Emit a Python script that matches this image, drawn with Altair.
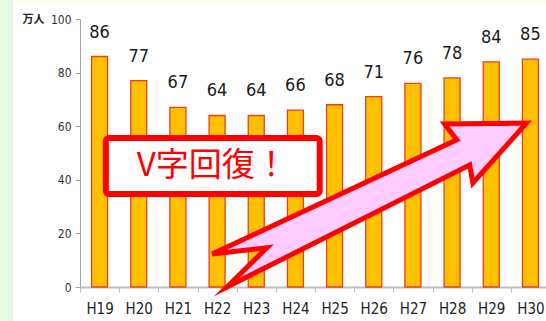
import altair as alt
import pandas as pd

# ---- data ----
years = ["H19", "H20", "H21", "H22", "H23", "H24", "H25", "H26", "H27", "H28", "H29", "H30"]
visitors = [86, 77, 67, 64, 64, 66, 68, 71, 76, 78, 84, 85]

# annotation arrow outline (x in category-slot units, y in 万人)
arrow_u = [3.37, 9.62, 9.31, 11.40, 10.03, 9.95, 3.75, 4.77, 3.37]
arrow_v = [12.3, 54.9, 60.8, 61.2, 38.8, 45.5, 0.0, 14.6, 12.3]

# annotation box (x in category-slot units, y in 万人)
box_u = [0.66, 6.12]
box_v = [34.7, 55.6]
callout_text = "V字回復！"
callout_pos = [1.45, 45.1]

bars_df = pd.DataFrame({"year": years, "value": visitors})
arrow_df = pd.DataFrame({"u": arrow_u, "v": arrow_v, "i": list(range(len(arrow_u)))})
box_df = pd.DataFrame({"u": [box_u[0]], "u2": [box_u[1]], "v": [box_v[0]], "v2": [box_v[1]]})
txt_df = pd.DataFrame({"u": [callout_pos[0]], "v": [callout_pos[1]], "t": [callout_text]})

XR = [0, 470]
NARROW = "Liberation Sans Narrow, DejaVu Sans Condensed, Arial Narrow, sans-serif"
CJK = "Noto Sans CJK JP"

yscale = alt.Scale(domain=[0, 100], nice=False)
band = alt.Scale(domain=years, range=XR, paddingInner=0, paddingOuter=0)
qx = alt.Scale(domain=[0, 12], range=XR, nice=False, zero=False)

bars = alt.Chart(bars_df).mark_bar(
    width=16, fill="#FFC000", stroke="#E8401C", strokeWidth=1.3
).encode(
    x=alt.X("year:N", sort=years, scale=band, axis=alt.Axis(
        title=None, labelAngle=0, tickBand="extent", tickSize=5, tickColor="#BFBFBF",
        domainColor="#BFBFBF", domainWidth=2, labelFont=NARROW, labelFontSize=15,
        labelColor="#222222", labelPadding=9)),
    y=alt.Y("value:Q", scale=yscale, axis=alt.Axis(
        values=[0, 20, 40, 60, 80, 100], grid=False, tickSize=5, tickColor="#A6A6A6",
        domainColor="#A6A6A6", labelFont=NARROW, labelFontSize=12, labelColor="#333333",
        labelPadding=4, title="万人", titleAngle=0, titleX=-58, titleY=0,
        titleAlign="left", titleBaseline="middle", titleFont=CJK, titleFontSize=11,
        titleFontWeight="bold", titleColor="#222222")),
)

labels = alt.Chart(bars_df).mark_text(
    baseline="bottom", dy=-15, font=NARROW, fontSize=18, color="#1A1A1A"
).encode(
    x=alt.X("year:N", sort=years, scale=band, axis=None),
    y=alt.Y("value:Q", scale=yscale, axis=None),
    text="value:Q",
)

box = alt.Chart(box_df).mark_rect(
    fill="white", stroke="#FF0000", strokeWidth=6, cornerRadius=3
).encode(
    x=alt.X("u:Q", scale=qx, axis=None), x2="u2:Q",
    y=alt.Y("v:Q", scale=yscale, axis=None), y2="v2:Q",
)

callout = alt.Chart(txt_df).mark_text(
    align="left", baseline="middle", font=CJK, fontSize=33, color="#FF0000"
).encode(
    x=alt.X("u:Q", scale=qx, axis=None),
    y=alt.Y("v:Q", scale=yscale, axis=None),
    text="t:N",
)

arrow = alt.Chart(arrow_df).mark_line(
    fill="#FFCCFF", stroke="#FF0000", strokeWidth=5, strokeJoin="miter", strokeMiterLimit=10
).encode(
    x=alt.X("u:Q", scale=qx, axis=None),
    y=alt.Y("v:Q", scale=yscale, axis=None),
    order="i:Q",
)

strip = alt.Chart(pd.DataFrame({"a": [0]})).mark_rect(color="#E6FAE6").encode(
    x=alt.value(-80), x2=alt.value(-67), y=alt.value(-19), y2=alt.value(302)
)
topstrip = alt.Chart(pd.DataFrame({"a": [0]})).mark_rect(color="#FFFDEB").encode(
    x=alt.value(-67), x2=alt.value(470), y=alt.value(-19), y2=alt.value(-16)
)

chart = alt.layer(strip, topstrip, bars, labels, box, callout, arrow).resolve_scale(
    x="independent"
).resolve_axis(y="independent").properties(
    width=466, height=268,
    autosize=alt.AutoSizeParams(type="none"),
    padding={"left": 80, "top": 19, "right": 0, "bottom": 34},
    background="white",
).configure_view(stroke=None)

chart.save("out.html", embed_options={"renderer": "svg", "actions": False})
